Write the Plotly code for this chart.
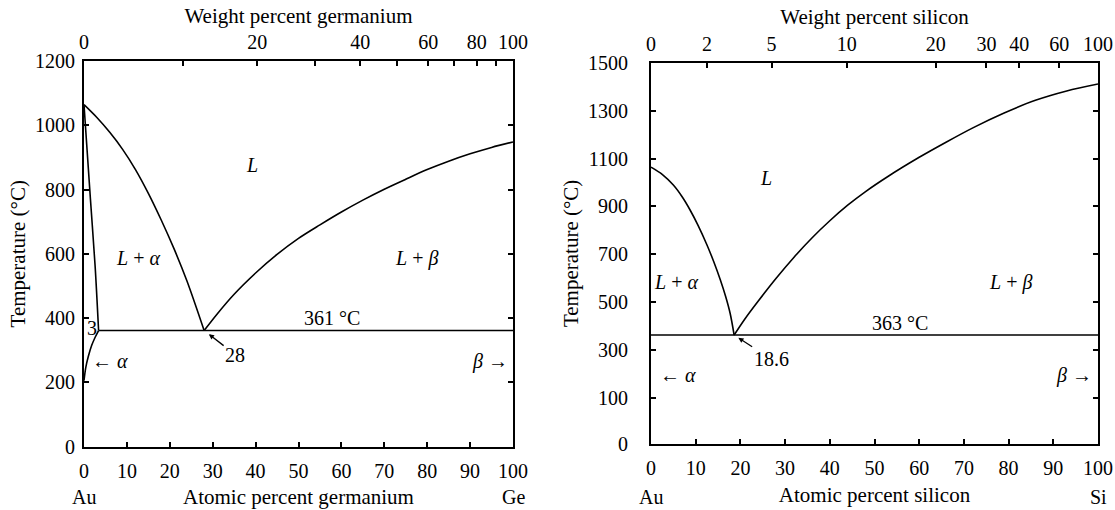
import plotly.graph_objects as go

# ---------------- data ----------------
# Au-Ge (left)
ge_liq_au_x = [0, 3, 6, 9, 12, 15, 18, 21, 24, 28]
ge_liq_au_T = [1064, 1024, 978, 925, 862, 788, 705, 615, 515, 361]
ge_sol_x = [0, 1.5, 2.6, 3.4]
ge_sol_T = [1064, 770, 560, 361]
ge_solvus_x = [3.4, 2.6, 1.8, 1.0, 0.4, 0]
ge_solvus_T = [361, 340, 315, 280, 245, 205]
ge_liq_ge_x = [28, 31, 35, 40, 45, 50, 55, 60, 65, 70, 75, 80, 85, 90, 95, 100]
ge_liq_ge_T = [361, 412, 474, 540, 598, 648, 690, 730, 767, 801, 832, 862, 888, 911, 931, 948]
ge_eut_x = [3.4, 100]
ge_eut_T = [361, 361]

# Au-Si (right)
si_liq_au_x = [0, 2.5, 5, 7, 8.74, 10.5, 12.5, 14, 15.5, 16.7, 17.7, 18.6]
si_liq_au_T = [1064, 1034, 989, 939, 885, 822, 740, 671, 594, 524, 454, 363]
si_liq_si_x = [18.6, 21, 24, 28, 32, 36, 40, 44, 48, 53, 60, 66, 72, 79, 86, 93, 100]
si_liq_si_T = [363, 430, 505, 600, 688, 768, 840, 905, 962, 1025, 1105, 1168, 1228, 1290, 1343, 1382, 1411]
si_eut_x = [0, 100]
si_eut_T = [363, 363]

# axis ticks
at_ticks = [0, 10, 20, 30, 40, 50, 60, 70, 80, 90, 100]
ge_wt_ticks = [0, 10, 20, 30, 40, 50, 60, 70, 80, 90, 100]
ge_wt_labels = ["0", "", "20", "", "40", "", "60", "", "80", "", "100"]
si_wt_ticks = [0, 2, 5, 10, 20, 30, 40, 60, 100]
si_wt_labels = ["0", "2", "5", "10", "20", "30", "40", "60", "100"]
ge_T_ticks = [0, 200, 400, 600, 800, 1000, 1200]
si_T_ticks = [-92, 100, 300, 500, 700, 900, 1100, 1300, 1500]
si_T_labels = ["0", "100", "300", "500", "700", "900", "1100", "1300", "1500"]

M_AU, M_GE, M_SI = 196.97, 72.63, 28.086


def wt_to_at(w, m):
    if w <= 0:
        return 0.0
    if w >= 100:
        return 100.0
    a = w / m
    b = (100 - w) / M_AU
    return 100 * a / (a + b)


FONT = "Liberation Serif"
LW = 1.6

fig = go.Figure()


def line(x, y, xa, ya, spline=True):
    fig.add_trace(go.Scatter(
        x=x, y=y, xaxis=xa, yaxis=ya, mode="lines",
        line=dict(color="black", width=LW, shape="spline" if spline else "linear", smoothing=0.9),
        showlegend=False, hoverinfo="skip"))


line(ge_liq_au_x, ge_liq_au_T, "x", "y")
line(ge_sol_x, ge_sol_T, "x", "y")
line(ge_solvus_x, ge_solvus_T, "x", "y")
line(ge_liq_ge_x, ge_liq_ge_T, "x", "y")
line(ge_eut_x, ge_eut_T, "x", "y", spline=False)
line(si_liq_au_x, si_liq_au_T, "x2", "y2")
line(si_liq_si_x, si_liq_si_T, "x2", "y2")
line(si_eut_x, si_eut_T, "x2", "y2", spline=False)

# empty helper traces so that the weight-percent (top) axes are drawn
for xa, ya in (("x3", "y"), ("x4", "y2")):
    fig.add_trace(go.Scatter(x=[None], y=[None], xaxis=xa, yaxis=ya, mode="lines",
                             showlegend=False, hoverinfo="skip"))

W, H = 1115, 510
L_dom = [84 / W, 513 / W]
R_dom = [651 / W, 1098 / W]
Y_dom = [(H - 446.5) / H, (H - 61) / H]

tickfont = dict(family=FONT, size=20, color="black")
titlefont = dict(family=FONT, size=21, color="black")
common_x = dict(range=[0, 100], showline=True, linecolor="black", linewidth=2,
                ticks="inside", ticklen=5, tickwidth=1.5, tickcolor="black",
                showgrid=False, zeroline=False, tickfont=tickfont, automargin=False,
                tickvals=at_ticks, ticktext=[str(v) for v in at_ticks],
                ticklabelstandoff=5)
common_y = dict(showline=True, linecolor="black", linewidth=2, mirror="ticks",
                ticks="inside", ticklen=5, tickwidth=1.5, tickcolor="black",
                showgrid=False, zeroline=False, tickfont=tickfont, automargin=False)
common_top = dict(side="top", range=[0, 100],
                  ticks="inside", ticklen=5, tickwidth=1.5, tickcolor="black",
                  showline=True, linecolor="black", linewidth=2,
                  showgrid=False, zeroline=False, tickfont=tickfont, automargin=False,
                  ticklabelstandoff=2)

fig.update_layout(
    width=W, height=H,
    margin=dict(l=0, r=0, t=0, b=0),
    paper_bgcolor="white", plot_bgcolor="white",
    font=dict(family=FONT, size=20, color="black"),
    xaxis=dict(domain=L_dom, anchor="y", mirror=True,
               title=dict(text="Atomic percent germanium", font=titlefont, standoff=9),
               **common_x),
    xaxis2=dict(domain=R_dom, anchor="y2", mirror=True,
                title=dict(text="Atomic percent silicon", font=titlefont, standoff=9),
                **common_x),
    xaxis3=dict(overlaying="x", anchor="y",
                tickvals=[wt_to_at(w, M_GE) for w in ge_wt_ticks], ticktext=ge_wt_labels,
                title=dict(text="Weight percent germanium", font=titlefont, standoff=2),
                **common_top),
    xaxis4=dict(overlaying="x2", anchor="y2",
                tickvals=[wt_to_at(w, M_SI) for w in si_wt_ticks], ticktext=si_wt_labels,
                title=dict(text="Weight percent silicon", font=titlefont, standoff=2),
                **common_top),
    yaxis=dict(domain=Y_dom, anchor="x", range=[0, 1200], tickvals=ge_T_ticks,
               ticklabelstandoff=3,
               title=dict(text="Temperature (°C)", font=titlefont, standoff=4), **common_y),
    yaxis2=dict(domain=[(H - 444) / H, (H - 62.7) / H], anchor="x2", range=[-92, 1500],
                tickvals=si_T_ticks, ticktext=si_T_labels, ticklabelstandoff=17,
                title=dict(text="Temperature (°C)", font=titlefont, standoff=4), **common_y),
)

ann = []


def txt(x, y, s, xr, yr, **kw):
    d = dict(x=x, y=y, text=s, xref=xr, yref=yr, showarrow=False,
             xanchor="center", yanchor="middle",
             font=dict(family=FONT, size=20, color="black"))
    d.update(kw)
    ann.append(d)


# left labels
txt(39.2, 876, "<i>L</i>", "x", "y")
txt(12.6, 586, "<i>L</i> + <i>α</i>", "x", "y")
txt(77.4, 586, "<i>L</i> + <i>β</i>", "x", "y")
txt(57.8, 400, "361 °C", "x", "y")
txt(1.9, 369, "3", "x", "y")
txt(6.1, 266, "← <i>α</i>", "x", "y")
txt(94.6, 266, "<i>β</i> →", "x", "y")
txt(28, 361, "28", "x", "y", showarrow=True, ax=31, ay=24, arrowhead=2,
    arrowsize=0.8, arrowwidth=1.3, standoff=6, arrowcolor="black")
# right labels
txt(25.8, 1019, "<i>L</i>", "x2", "y2")
txt(5.6, 584, "<i>L</i> + <i>α</i>", "x2", "y2")
txt(80.5, 584, "<i>L</i> + <i>β</i>", "x2", "y2")
txt(55.8, 413, "363 °C", "x2", "y2")
txt(6.1, 196, "← <i>α</i>", "x2", "y2")
txt(94.6, 196, "<i>β</i> →", "x2", "y2")
txt(18.6, 363, "18.6", "x2", "y2", showarrow=True, ax=37, ay=24, arrowhead=2,
    arrowsize=0.8, arrowwidth=1.3, standoff=5, arrowcolor="black")
# element names under axis ends
y_el = 1 - 497 / H
txt(0, y_el, "Au", "x", "paper")
txt(100, y_el, "Ge", "x", "paper")
txt(0, y_el, "Au", "x2", "paper")
txt(100, y_el, "Si", "x2", "paper")

fig.update_layout(annotations=ann)
fig.write_html("out.html")
